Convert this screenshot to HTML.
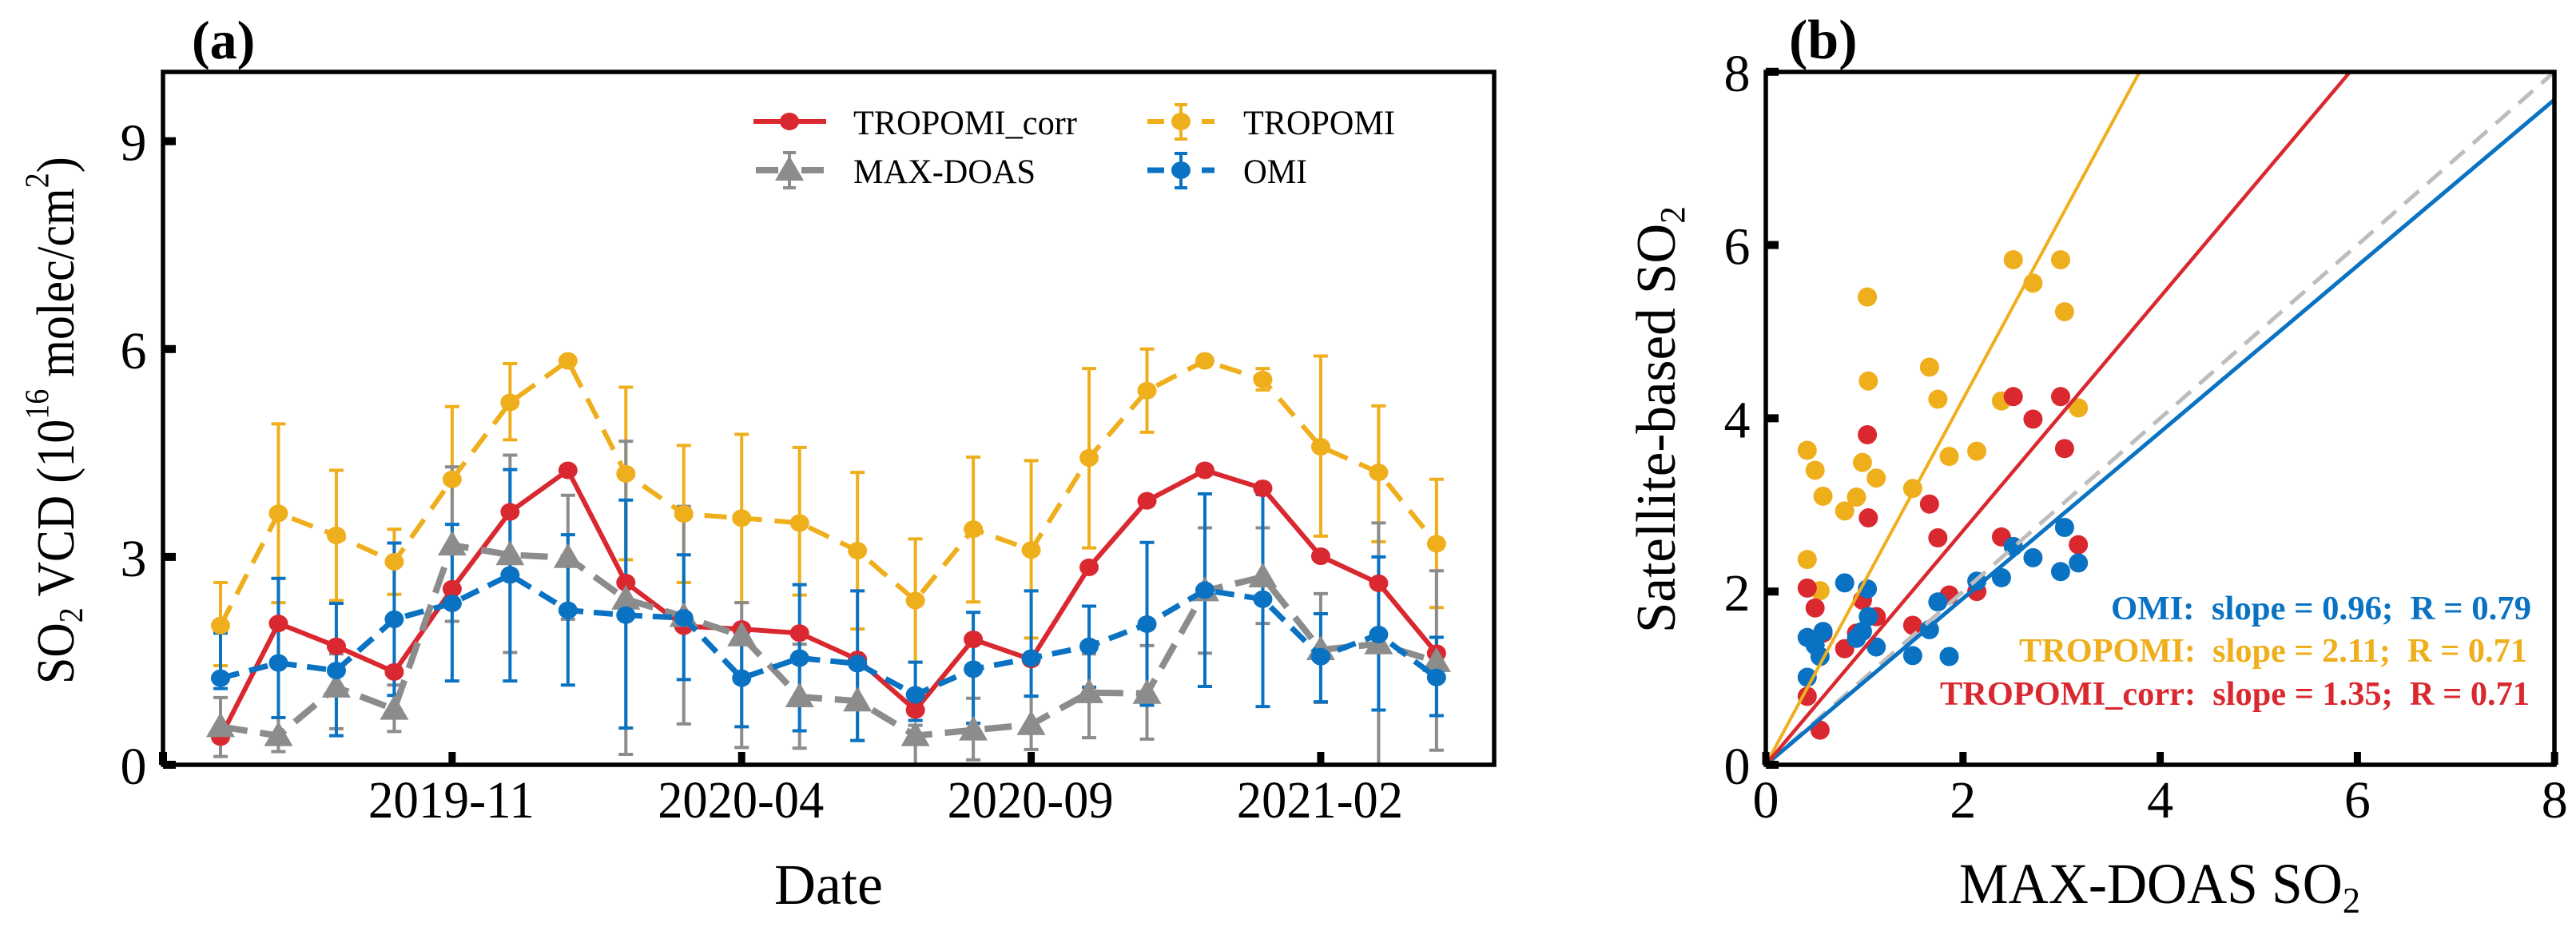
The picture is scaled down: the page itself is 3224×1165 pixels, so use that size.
<!DOCTYPE html>
<html>
<head>
<meta charset="utf-8">
<title>SO2 VCD time series and scatter</title>
<style>
html,body{margin:0;padding:0;background:#fff;}
svg{display:block;}
text{font-family:"Liberation Serif",serif;fill:#000;}
</style>
</head>
<body>
<svg id="chart" xmlns="http://www.w3.org/2000/svg" width="3224" height="1165" viewBox="0 0 3224 1165">
<rect width="3224" height="1165" fill="#fff"/>
<g id="panelA">
<text x="240" y="73" font-size="68" font-weight="bold">(a)</text>
<text transform="translate(92,856) rotate(-90) scale(1,1.12)" font-size="60">SO<tspan font-size="38" dy="10">2</tspan><tspan dy="-10"> VCD (10</tspan><tspan font-size="38" dy="-28">16</tspan><tspan dy="28"> molec/cm</tspan><tspan font-size="38" dy="-28">2</tspan><tspan dy="28">)</tspan></text>
<text x="1037" y="1131" font-size="72" text-anchor="middle" textLength="136" lengthAdjust="spacingAndGlyphs">Date</text>
</g>
<g id="panelB">
<text x="2239" y="73" font-size="70" font-weight="bold">(b)</text>
<text transform="translate(2096,792) rotate(-90)" font-size="70" textLength="534" lengthAdjust="spacingAndGlyphs">Satellite-based SO<tspan font-size="44" dy="12">2</tspan></text>
<text x="2452" y="1130" font-size="72" textLength="502" lengthAdjust="spacingAndGlyphs">MAX-DOAS SO<tspan font-size="46" dy="12">2</tspan></text>
<text x="2642" y="775" font-size="42" font-weight="bold" style="fill:#0a72c2;white-space:pre" textLength="526" lengthAdjust="spacingAndGlyphs">OMI:  slope = 0.96;  R = 0.79</text>
<text x="2527" y="828" font-size="42" font-weight="bold" style="fill:#efae1c;white-space:pre" textLength="636" lengthAdjust="spacingAndGlyphs">TROPOMI:  slope = 2.11;  R = 0.71</text>
<text x="2428" y="882" font-size="42" font-weight="bold" style="fill:#d9282f;white-space:pre" textLength="738" lengthAdjust="spacingAndGlyphs">TROPOMI_corr:  slope = 1.35;  R = 0.71</text>
</g>
</svg>
<script>
// ---- data ----
const dates = ['2019-07','2019-08','2019-09','2019-10','2019-11','2019-12','2020-01','2020-02','2020-03','2020-04','2020-05','2020-06','2020-07','2020-08','2020-09','2020-10','2020-11','2020-12','2021-01','2021-02','2021-03','2021-04'];
const tropomiCorr = [0.40,2.04,1.71,1.34,2.54,3.65,4.25,2.63,2.00,1.96,1.90,1.52,0.79,1.81,1.52,2.85,3.81,4.25,3.99,3.01,2.62,1.61];
const tropomi = [2.01,3.63,3.31,2.93,4.12,5.23,5.83,4.20,3.62,3.56,3.49,3.09,2.37,3.40,3.10,4.43,5.40,5.83,5.56,4.59,4.22,3.19];
const tropomiUpper = [2.63,4.92,4.25,3.40,5.17,5.79,5.83,5.45,4.61,4.77,4.58,4.22,3.26,4.44,4.39,5.72,6.00,5.83,5.72,5.90,5.18,4.12];
const tropomiLower = [1.43,2.34,2.37,2.46,3.07,4.69,5.83,2.96,2.63,2.34,2.45,1.96,1.48,2.35,1.83,3.13,4.80,5.83,5.41,3.30,3.22,2.27];
const omi = [1.25,1.47,1.36,2.10,2.33,2.74,2.23,2.16,2.12,1.25,1.54,1.46,1.01,1.38,1.54,1.71,2.03,2.52,2.39,1.56,1.88,1.26];
const omiUpper = [1.90,2.69,2.33,3.20,3.47,4.26,3.32,3.82,3.03,1.95,2.60,2.51,1.48,2.20,2.51,2.29,3.21,3.91,3.90,2.18,3.00,1.84];
const omiLower = [1.10,0.68,0.42,1.00,1.21,1.21,1.15,0.53,1.23,0.55,0.49,0.35,0.64,0.60,0.99,1.12,0.86,1.13,0.84,0.91,0.79,0.71];
const maxDoas = [0.55,0.42,1.12,0.80,3.17,3.03,2.99,2.39,2.14,1.86,0.98,0.92,0.42,0.50,0.58,1.04,1.03,2.51,2.71,1.66,1.745,1.49];
const maxDoasUpper = [0.97,0.68,1.60,1.15,4.30,4.47,3.89,4.67,3.73,2.34,1.74,1.50,0.57,0.96,0.99,1.60,1.72,3.42,3.42,2.47,3.49,2.80];
const maxDoasLower = [0.12,0.19,0.52,0.48,2.07,1.62,2.10,0.15,0.59,0.25,0.24,0.35,0.00,0.07,0.22,0.39,0.37,1.61,2.04,0.90,0.00,0.21];
const xTickDates = ['2019-11','2020-04','2020-09','2021-02'];
const yTicksA = [0,3,6,9];
const ticksB = [0,2,4,6,8];
const slopeTropomi = [2.11];
const slopeCorr = [1.35];
const slopeOmi = [0.96];
const slopeRef = [1];

const RED='#d9282f', YEL='#efae1c', BLU='#0a72c2', GRY='#8c8c8c';
const NS='http://www.w3.org/2000/svg';
const panelA=document.getElementById('panelA');
const panelB=document.getElementById('panelB');

// ---- axis functions ----
function xA(i){return 276+72.47*i;}
function yA(v){return 957-86.7*v;}
function xB(v){return 2210+123.4*v;}
function yB(v){return 957-108.4*v;}

function mk(parent,tag,attrs){
  const e=document.createElementNS(NS,tag);
  for(const k in attrs){e.setAttribute(k,attrs[k]);}
  parent.appendChild(e);
  return e;
}
function group(parent,name){
  const g=mk(parent,'g',{});
  
  
  return g;
}
function errBars(parent,upper,lower,color,name){
  const g=group(parent,name);
  upper.forEach(function(u,i){
    const x=xA(i), l=lower[i];
    if(u===l){return;}
    const d='M'+x+' '+yA(u)+'V'+yA(l)+'M'+(x-9)+' '+yA(u)+'H'+(x+9)+'M'+(x-9)+' '+yA(l)+'H'+(x+9);
    const p=mk(g,'path',{d:d,stroke:color,'stroke-width':4,fill:'none'});
    
    
  });
}
function seriesPath(vals){
  return vals.map(function(v,i){return (i?'L':'M')+xA(i).toFixed(1)+' '+yA(v).toFixed(1);}).join('');
}
function timeLine(parent,vals,color,w,dash,name){
  const p=mk(parent,'path',{d:seriesPath(vals),stroke:color,'stroke-width':w,fill:'none','stroke-dasharray':dash,'stroke-linejoin':'round'});
  
  
}
function circles(parent,vals,color,name){
  const g=group(parent,name);
  vals.forEach(function(v,i){
    const c=mk(g,'ellipse',{cx:xA(i),cy:yA(v),rx:12,ry:11,fill:color});
    
    
  });
}
function triangle(parent,x,y,color){
  const t=mk(parent,'path',{d:'M'+x+' '+(y-18)+'L'+(x+18)+' '+(y+13)+'H'+(x-18)+'Z',fill:color});
  
  
  return t;
}
function tickText(parent,x,y,label,size,len,name){
  const t=mk(parent,'text',{x:x,y:y,'font-size':size,'text-anchor':'middle'});
  if(len){t.setAttribute('textLength',len);t.setAttribute('lengthAdjust','spacingAndGlyphs');}
  t.textContent=label;
  
  
}
function tickMark(parent,d,w,name){
  const p=mk(parent,'path',{d:d,stroke:'#000','stroke-width':w,fill:'none'});
  
  
}

// ---- panel a ----
errBars(panelA,tropomiUpper,tropomiLower,YEL,'tropomi-error-bars');
errBars(panelA,maxDoasUpper,maxDoasLower,GRY,'max-doas-error-bars');
errBars(panelA,omiUpper,omiLower,BLU,'omi-error-bars');
timeLine(panelA,tropomi,YEL,6,'28 16','tropomi-line');
circles(panelA,tropomi,YEL,'tropomi-points');
timeLine(panelA,tropomiCorr,RED,6,'none','tropomi-corr-line');
circles(panelA,tropomiCorr,RED,'tropomi-corr-points');
timeLine(panelA,maxDoas,GRY,8,'34 16','max-doas-line');
const triGroup=group(panelA,'max-doas-points');
maxDoas.forEach(function(v,i){triangle(triGroup,xA(i),yA(v),GRY);});
timeLine(panelA,omi,BLU,7,'24 13','omi-line');
circles(panelA,omi,BLU,'omi-points');

// frame a
const frameA=mk(panelA,'rect',{x:204,y:90,width:1666,height:867,fill:'none',stroke:'#000','stroke-width':5.5});


yTicksA.forEach(function(v){
  tickMark(panelA,'M204 '+yA(v)+'H220',10,'y-tick');
  tickText(panelA,167,yA(v)+24,String(v),66,0,'y-tick-label');
});
tickMark(panelA,'M204 957V941',10,'x-tick');
xTickDates.forEach(function(lab){
  const i=dates.indexOf(lab);
  tickMark(panelA,'M'+xA(i)+' 957V941',9,'x-tick');
  tickText(panelA,xA(i)-1,1023,lab,66,208,'x-tick-label');
});

// legend
const leg=group(panelA,'legend');
function legLine(x1,x2,y,color,w,name){
  const l=mk(leg,'line',{x1:x1,x2:x2,y1:y,y2:y,stroke:color,'stroke-width':w});
  
  
}
function legCap(x,y1,y2,color,name){
  const p=mk(leg,'path',{d:'M'+x+' '+y1+'V'+y2+'M'+(x-8)+' '+y1+'H'+(x+8)+'M'+(x-8)+' '+y2+'H'+(x+8),stroke:color,'stroke-width':4,fill:'none'});
  
  
}
function legDot(x,y,color,name){
  const c=mk(leg,'ellipse',{cx:x,cy:y,rx:12,ry:11,fill:color});
  
  
}
function legText(x,y,len,label,name){
  const t=mk(leg,'text',{x:x,y:y,'font-size':43,textLength:len,lengthAdjust:'spacingAndGlyphs'});
  t.textContent=label;
  
  
}
legLine(943,1034,152,RED,6,'legend-tropomi-corr-line');
legDot(988,152,RED,'legend-tropomi-corr-marker');
legText(1068,168,280,'TROPOMI_corr','legend-tropomi-corr-label');
legLine(946,974,213,GRY,8,'legend-max-doas-dash-left');
legLine(1003,1031,213,GRY,8,'legend-max-doas-dash-right');
legCap(988,191,235,GRY,'legend-max-doas-error');
triangle(leg,988,213,GRY);
legText(1068,229,228,'MAX-DOAS','legend-max-doas-label');
legLine(1436,1457,152,YEL,6,'legend-tropomi-dash-left');
legLine(1504,1520,152,YEL,6,'legend-tropomi-dash-right');
legCap(1478,131,174,YEL,'legend-tropomi-error');
legDot(1478,152,YEL,'legend-tropomi-marker');
legText(1556,168,190,'TROPOMI','legend-tropomi-label');
legLine(1436,1457,213,BLU,7,'legend-omi-dash-left');
legLine(1504,1520,213,BLU,7,'legend-omi-dash-right');
legCap(1478,192,235,BLU,'legend-omi-error');
legDot(1478,213,BLU,'legend-omi-marker');
legText(1556,229,80,'OMI','legend-omi-label');

// ---- panel b ----
function scatter(vals,color,name){
  const g=group(panelB,name);
  vals.forEach(function(v,i){
    const c=mk(g,'circle',{cx:xB(maxDoas[i]),cy:yB(v),r:12,fill:color});
    
    
  });
}
scatter(tropomi,YEL,'tropomi-scatter');
scatter(tropomiCorr,RED,'tropomi-corr-scatter');
scatter(omi,BLU,'omi-scatter');

function fitLine(slope,color,w,dash,name){
  // clip the fit line at the plot's x=8 / y=8 limits
  const xEnd=Math.min(8,8/slope), yEnd=xEnd*slope;
  const l=mk(panelB,'line',{x1:xB(0),y1:yB(0),x2:xB(xEnd),y2:yB(yEnd),stroke:color,'stroke-width':w,'stroke-dasharray':dash});
  
  
}
fitLine(slopeRef[0],'#bdbdbd',5,'24 14','one-to-one-line');
fitLine(slopeOmi[0],BLU,5,'none','omi-fit-line');
fitLine(slopeTropomi[0],YEL,4,'none','tropomi-fit-line');
fitLine(slopeCorr[0],RED,4.5,'none','tropomi-corr-fit-line');

const frameB=mk(panelB,'rect',{x:2210,y:90,width:987,height:867,fill:'none',stroke:'#000','stroke-width':5.5});


ticksB.forEach(function(v){
  tickMark(panelB,'M2210 '+yB(v)+'H2226',10,'y-tick');
  tickText(panelB,2174,yB(v)+24,String(v),66,0,'y-tick-label');
  tickMark(panelB,'M'+xB(v)+' 957V941',9,'x-tick');
  tickText(panelB,xB(v),1023,String(v),66,0,'x-tick-label');
});
</script>
</body>
</html>
